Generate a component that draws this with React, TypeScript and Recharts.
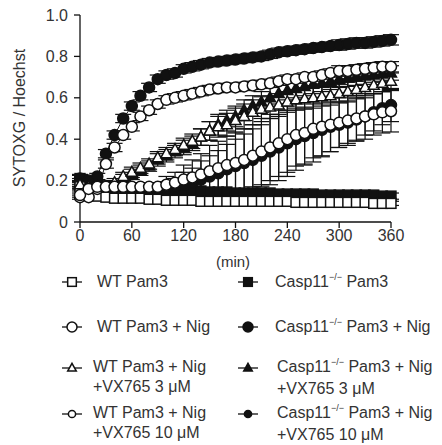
import React from "react";
import { ComposedChart, Line, XAxis, YAxis, ErrorBar } from "recharts";

const minutes = [0, 10, 20, 30, 40, 50, 60, 70, 80, 90, 100, 110, 120, 130, 140, 150, 160, 170, 180, 190, 200, 210, 220, 230, 240, 250, 260, 270, 280, 290, 300, 310, 320, 330, 340, 350, 360];
const xTicks = [0, 60, 120, 180, 240, 300, 360];
const yTicks = [0, 0.2, 0.4, 0.6, 0.8, 1.0];

const wtPam3 = [0.17, 0.14, 0.125, 0.12, 0.115, 0.115, 0.115, 0.115, 0.11, 0.11, 0.105, 0.105, 0.105, 0.105, 0.1, 0.1, 0.1, 0.1, 0.1, 0.1, 0.1, 0.1, 0.1, 0.1, 0.1, 0.095, 0.095, 0.095, 0.095, 0.095, 0.095, 0.095, 0.095, 0.095, 0.09, 0.09, 0.09];
const wtPam3Sd = [0.01, 0.01, 0.01, 0.01, 0.01, 0.01, 0.01, 0.01, 0.01, 0.01, 0.01, 0.01, 0.01, 0.01, 0.01, 0.01, 0.01, 0.01, 0.01, 0.01, 0.01, 0.01, 0.01, 0.01, 0.01, 0.01, 0.01, 0.01, 0.01, 0.01, 0.01, 0.01, 0.01, 0.01, 0.01, 0.01, 0.01];

const caspPam3 = [0.21, 0.19, 0.18, 0.175, 0.17, 0.17, 0.165, 0.165, 0.16, 0.16, 0.155, 0.155, 0.15, 0.15, 0.15, 0.145, 0.145, 0.145, 0.14, 0.14, 0.14, 0.14, 0.14, 0.135, 0.135, 0.135, 0.135, 0.135, 0.13, 0.13, 0.13, 0.13, 0.13, 0.13, 0.13, 0.125, 0.125];
const caspPam3Sd = [0.015, 0.015, 0.015, 0.015, 0.015, 0.015, 0.015, 0.015, 0.015, 0.015, 0.015, 0.015, 0.015, 0.015, 0.015, 0.015, 0.015, 0.015, 0.015, 0.015, 0.015, 0.015, 0.015, 0.015, 0.015, 0.015, 0.015, 0.015, 0.015, 0.015, 0.015, 0.015, 0.015, 0.015, 0.015, 0.015, 0.015];

const wtNig = [0.12, 0.12, 0.16, 0.28, 0.36, 0.42, 0.46, 0.51, 0.54, 0.57, 0.59, 0.6, 0.61, 0.62, 0.63, 0.64, 0.645, 0.65, 0.65, 0.655, 0.66, 0.665, 0.67, 0.68, 0.69, 0.69, 0.7, 0.7, 0.71, 0.72, 0.73, 0.73, 0.735, 0.74, 0.745, 0.75, 0.75];
const wtNigSd = [0.01, 0.01, 0.015, 0.02, 0.02, 0.02, 0.02, 0.02, 0.02, 0.02, 0.02, 0.02, 0.02, 0.02, 0.02, 0.02, 0.02, 0.02, 0.02, 0.02, 0.02, 0.02, 0.02, 0.02, 0.02, 0.02, 0.02, 0.02, 0.02, 0.02, 0.025, 0.025, 0.025, 0.025, 0.025, 0.025, 0.025];

const caspNig = [0.21, 0.2, 0.22, 0.33, 0.42, 0.5, 0.56, 0.61, 0.65, 0.69, 0.71, 0.72, 0.74, 0.75, 0.76, 0.77, 0.775, 0.78, 0.785, 0.79, 0.795, 0.8, 0.81, 0.82, 0.825, 0.83, 0.835, 0.84, 0.845, 0.85, 0.855, 0.86, 0.865, 0.865, 0.87, 0.875, 0.88];
const caspNigSd = [0.02, 0.015, 0.015, 0.02, 0.02, 0.02, 0.02, 0.02, 0.02, 0.02, 0.02, 0.02, 0.02, 0.02, 0.02, 0.02, 0.02, 0.02, 0.02, 0.02, 0.02, 0.02, 0.02, 0.02, 0.02, 0.02, 0.02, 0.02, 0.02, 0.02, 0.025, 0.025, 0.025, 0.025, 0.025, 0.025, 0.025];

const wtVx3 = [0.18, 0.17, 0.17, 0.17, 0.19, 0.22, 0.24, 0.26, 0.28, 0.31, 0.33, 0.35, 0.37, 0.39, 0.41, 0.44, 0.46, 0.47, 0.49, 0.51, 0.53, 0.545, 0.555, 0.565, 0.58, 0.59, 0.595, 0.6, 0.605, 0.61, 0.62, 0.63, 0.64, 0.65, 0.66, 0.67, 0.68];
const wtVx3Sd = [0.02, 0.02, 0.02, 0.02, 0.02, 0.02, 0.025, 0.025, 0.025, 0.03, 0.03, 0.03, 0.035, 0.035, 0.04, 0.045, 0.05, 0.055, 0.06, 0.06, 0.06, 0.06, 0.055, 0.055, 0.05, 0.05, 0.05, 0.05, 0.045, 0.045, 0.045, 0.045, 0.04, 0.04, 0.04, 0.04, 0.04];

const caspVx3 = [0.19, 0.17, 0.17, 0.17, 0.18, 0.21, 0.23, 0.25, 0.27, 0.3, 0.32, 0.34, 0.36, 0.38, 0.41, 0.44, 0.47, 0.49, 0.51, 0.54, 0.56, 0.58, 0.6, 0.62, 0.635, 0.645, 0.655, 0.665, 0.67, 0.68, 0.69, 0.695, 0.7, 0.705, 0.71, 0.715, 0.72];
const caspVx3Sd = [0.02, 0.02, 0.02, 0.02, 0.02, 0.02, 0.025, 0.025, 0.025, 0.03, 0.03, 0.03, 0.035, 0.035, 0.04, 0.045, 0.05, 0.05, 0.05, 0.05, 0.05, 0.05, 0.05, 0.05, 0.045, 0.045, 0.045, 0.045, 0.04, 0.04, 0.04, 0.04, 0.04, 0.04, 0.035, 0.035, 0.035];

const wtVx10 = [0.13, 0.16, 0.17, 0.17, 0.17, 0.17, 0.17, 0.17, 0.17, 0.17, 0.18, 0.19, 0.205, 0.215, 0.23, 0.245, 0.26, 0.275, 0.285, 0.3, 0.32, 0.34, 0.36, 0.38, 0.4, 0.42, 0.43, 0.45, 0.46, 0.47, 0.48, 0.49, 0.5, 0.51, 0.52, 0.53, 0.535];
const wtVx10Sd = [0.01, 0.01, 0.01, 0.01, 0.01, 0.01, 0.01, 0.02, 0.02, 0.02, 0.04, 0.05, 0.07, 0.085, 0.1, 0.125, 0.13, 0.14, 0.15, 0.15, 0.15, 0.16, 0.16, 0.16, 0.16, 0.15, 0.15, 0.14, 0.14, 0.13, 0.12, 0.12, 0.11, 0.11, 0.1, 0.1, 0.1];

const caspVx10 = [0.16, 0.17, 0.17, 0.17, 0.165, 0.165, 0.16, 0.16, 0.16, 0.16, 0.165, 0.17, 0.18, 0.19, 0.205, 0.22, 0.235, 0.255, 0.27, 0.285, 0.3, 0.32, 0.34, 0.36, 0.38, 0.4, 0.415, 0.43, 0.445, 0.46, 0.47, 0.48, 0.495, 0.51, 0.53, 0.55, 0.565];
const caspVx10Sd = [0.01, 0.01, 0.01, 0.01, 0.01, 0.01, 0.01, 0.02, 0.02, 0.02, 0.03, 0.04, 0.06, 0.07, 0.09, 0.1, 0.11, 0.12, 0.13, 0.14, 0.15, 0.15, 0.16, 0.16, 0.16, 0.15, 0.14, 0.14, 0.13, 0.12, 0.11, 0.1, 0.1, 0.09, 0.09, 0.08, 0.08];

type Shape = "square" | "circle" | "triangle";

// drawing order: Casp11 first, WT on top
const series = [
  { id: "caspPam3", values: caspPam3, sd: caspPam3Sd, shape: "square" as Shape, filled: true },
  { id: "caspNig", values: caspNig, sd: caspNigSd, shape: "circle" as Shape, filled: true },
  { id: "caspVx3", values: caspVx3, sd: caspVx3Sd, shape: "triangle" as Shape, filled: true },
  { id: "caspVx10", values: caspVx10, sd: caspVx10Sd, shape: "circle" as Shape, filled: true },
  { id: "wtPam3", values: wtPam3, sd: wtPam3Sd, shape: "square" as Shape, filled: false },
  { id: "wtNig", values: wtNig, sd: wtNigSd, shape: "circle" as Shape, filled: false },
  { id: "wtVx3", values: wtVx3, sd: wtVx3Sd, shape: "triangle" as Shape, filled: false },
  { id: "wtVx10", values: wtVx10, sd: wtVx10Sd, shape: "circle" as Shape, filled: false },
];

const rows = minutes.map((t, i) => {
  const row: Record<string, number> = { t };
  series.forEach((s) => {
    row[s.id] = s.values[i];
    row[s.id + "Sd"] = s.sd[i];
  });
  return row;
});

const INK = "#111";
const TEXT = "#333";
const FONT = "Arial, 'Liberation Sans', sans-serif";

function Marker({ cx, cy, shape, filled, r }: { cx: number; cy: number; shape: Shape; filled: boolean; r: number }) {
  const fill = filled ? INK : "#fff";
  if (shape === "square") {
    return <rect x={cx - r * 0.9} y={cy - r * 0.9} width={r * 1.8} height={r * 1.8} fill={fill} stroke={INK} strokeWidth={1.5} />;
  }
  if (shape === "triangle") {
    const h = r * 1.8;
    const pts = `${cx},${cy - h * 0.6} ${cx + r},${cy + h * 0.4} ${cx - r},${cy + h * 0.4}`;
    return <polygon points={pts} fill={fill} stroke={INK} strokeWidth={1.5} strokeLinejoin="miter" />;
  }
  return <circle cx={cx} cy={cy} r={r} fill={fill} stroke={INK} strokeWidth={1.5} />;
}

const legendItems = [
  { col: 0, row: 0, shape: "square" as Shape, filled: false, lines: ["WT Pam3"] },
  { col: 1, row: 0, shape: "square" as Shape, filled: true, lines: ["Pam3"], casp: true },
  { col: 0, row: 1, shape: "circle" as Shape, filled: false, lines: ["WT Pam3 + Nig"] },
  { col: 1, row: 1, shape: "circle" as Shape, filled: true, lines: ["Pam3 + Nig"], casp: true },
  { col: 0, row: 2, shape: "triangle" as Shape, filled: false, lines: ["WT Pam3 + Nig", "+VX765 3 μM"] },
  { col: 1, row: 2, shape: "triangle" as Shape, filled: true, lines: ["Pam3 + Nig", "+VX765 3 μM"], casp: true },
  { col: 0, row: 3, shape: "circle" as Shape, filled: false, lines: ["WT Pam3 + Nig", "+VX765 10 μM"] },
  { col: 1, row: 3, shape: "circle" as Shape, filled: true, lines: ["Pam3 + Nig", "+VX765 10 μM"], casp: true },
];

const rowTop = [272, 317, 357, 403];
const rowSymbolY = [282, 327, 368, 414];
const legendMarkerR = [4.8, 5, 4.3, 3.6];

function LegendBlock() {
  return (
    <>
      {legendItems.map((it, k) => {
        const symX = it.col === 0 ? 61 : 237;
        const textX = it.col === 0 ? (it.row < 2 ? 97 : 93) : it.row < 2 ? 275 : 277;
        const symY = rowSymbolY[it.row];
        return (
          <React.Fragment key={k}>
            <svg style={{ position: "absolute", left: symX, top: symY - 8 }} width={22} height={16}>
              <line x1={1} x2={21} y1={8} y2={8} stroke={INK} strokeWidth={1.3} />
              <Marker cx={11} cy={8} shape={it.shape} filled={it.filled} r={legendMarkerR[it.row]} />
            </svg>
            <div
              style={{
                position: "absolute",
                left: textX,
                top: rowTop[it.row],
                fontFamily: FONT,
                fontSize: 16,
                lineHeight: "20px",
                color: TEXT,
                whiteSpace: "nowrap",
              }}
            >
              {it.lines.map((ln, j) => (
                <div key={j}>
                  {it.casp && j === 0 ? (
                    <>
                      Casp11
                      <span style={{ fontSize: 9, position: "relative", top: -7 }}>−/−</span> {ln}
                    </>
                  ) : (
                    ln
                  )}
                </div>
              ))}
            </div>
          </React.Fragment>
        );
      })}
    </>
  );
}

export default function App() {
  return (
    <div style={{ position: "absolute", left: 0, top: 0, width: 442, height: 445, background: "#fff" }}>
      <ComposedChart width={442} height={445} data={rows} margin={{ top: 15, right: 51, bottom: 193, left: 0 }}>
        <XAxis
          dataKey="t"
          type="number"
          domain={[0, 360]}
          ticks={xTicks}
          height={30}
          tickSize={6}
          tickMargin={2}
          stroke={INK}
          strokeWidth={1.3}
          tick={{ fontSize: 16, fill: TEXT, fontFamily: FONT }}
          label={() => (
            <text x={233} y={267} textAnchor="middle" fontSize={15} fill={TEXT} fontFamily={FONT}>
              (min)
            </text>
          )}
        />
        <YAxis
          type="number"
          domain={[0, 1]}
          allowDataOverflow
          ticks={yTicks}
          width={80}
          tickSize={6}
          tickMargin={6}
          stroke={INK}
          strokeWidth={1.3}
          tickFormatter={(v: number) => (v === 0 ? "0" : v.toFixed(1))}
          tick={{ fontSize: 16, fill: TEXT, fontFamily: FONT }}
          label={() => (
            <text
              x={25}
              y={118}
              transform="rotate(-90, 25, 118)"
              textAnchor="middle"
              fontSize={16}
              fill={TEXT}
              fontFamily={FONT}
            >
              SYTOXG / Hoechst
            </text>
          )}
        />
        {series.map((s) => (
          <Line
            key={s.id}
            dataKey={s.id}
            type="linear"
            stroke={INK}
            strokeWidth={1}
            isAnimationActive={false}
            activeDot={false}
            dot={(p: any) => (
              <Marker key={`${s.id}-${p.index}`} cx={p.cx} cy={p.cy} shape={s.shape} filled={s.filled} r={5.5} />
            )}
          >
            <ErrorBar dataKey={s.id + "Sd"} direction="y" width={8} stroke={INK} strokeWidth={1.2} />
          </Line>
        ))}
      </ComposedChart>
      <LegendBlock />
    </div>
  );
}
